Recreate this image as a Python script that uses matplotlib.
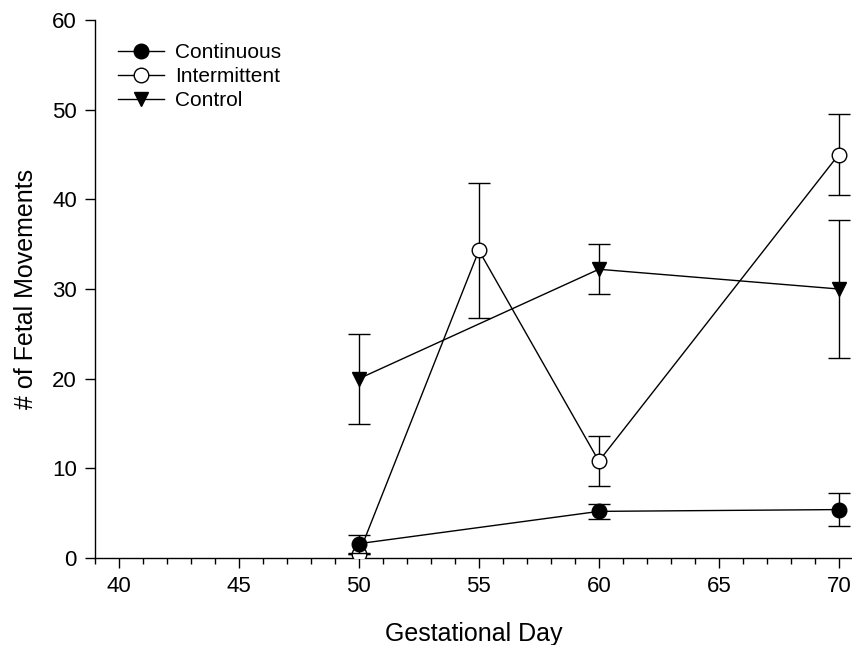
import matplotlib
matplotlib.use("Agg")
import matplotlib.pyplot as plt
from matplotlib.ticker import MultipleLocator
from matplotlib.lines import Line2D

plt.rcParams['font.family'] = ['Liberation Sans', 'DejaVu Sans']

days_cont = [50, 60, 70]
cont = [1.6, 5.2, 5.4]
cont_err = [1.0, 0.8, 1.8]

days_inter = [50, 55, 60, 70]
inter = [0.5, 34.3, 10.8, 45.0]
inter_err = [0.0, 7.5, 2.8, 4.5]

days_ctrl = [50, 60, 70]
ctrl = [20.0, 32.2, 30.0]
ctrl_err = [5.0, 2.8, 7.7]

fig = plt.figure(figsize=(8.53, 6.45), dpi=100)
ax = fig.add_axes([95/853, 1-558/645, (852-95)/853, (558-20)/645])

kw = dict(color='black', lw=1.0, capsize=8, elinewidth=1.0, capthick=1.0, markersize=10.5, markeredgewidth=1.0)
ax.errorbar(days_ctrl, ctrl, yerr=ctrl_err, marker='v', mfc='black', mec='black', zorder=3, **kw)
ax.errorbar(days_inter, inter, yerr=inter_err, marker='o', mfc='white', mec='black', zorder=4, **kw)
ax.errorbar(days_cont, cont, yerr=cont_err, marker='o', mfc='black', mec='black', zorder=5, **kw)

ax.set_xlim(39, 70.55)
ax.set_ylim(0, 60)
ax.set_xticks([40, 45, 50, 55, 60, 65, 70])
ax.xaxis.set_minor_locator(MultipleLocator(1))
ax.yaxis.set_major_locator(MultipleLocator(10))
for s in ['top', 'right']:
    ax.spines[s].set_visible(False)
for s in ['left', 'bottom']:
    ax.spines[s].set_linewidth(1.0)
ax.tick_params(axis='both', which='major', direction='out', length=7, width=1.0, labelsize=16, pad=6)
ax.tick_params(axis='x', which='minor', direction='out', length=4, width=1.0)
ax.set_xlabel('Gestational Day', fontsize=18, labelpad=18)
ax.set_ylabel('# of Fetal Movements', fontsize=18, labelpad=10)

handles = [
    Line2D([], [], color='black', lw=1.0, marker='o', mfc='black', mec='black', markersize=10.5),
    Line2D([], [], color='black', lw=1.0, marker='o', mfc='white', mec='black', markersize=10.5),
    Line2D([], [], color='black', lw=1.0, marker='v', mfc='black', mec='black', markersize=10.5),
]
labels = ['Continuous', 'Intermittent', 'Control']
ax.legend(handles, labels, loc='upper left', bbox_to_anchor=(0.0, 1.0), frameon=False,
          fontsize=15, handlelength=2.2, labelspacing=0.25, handletextpad=0.55,
          borderaxespad=0.8, borderpad=0.3)

fig.savefig('out.png', dpi=100)
